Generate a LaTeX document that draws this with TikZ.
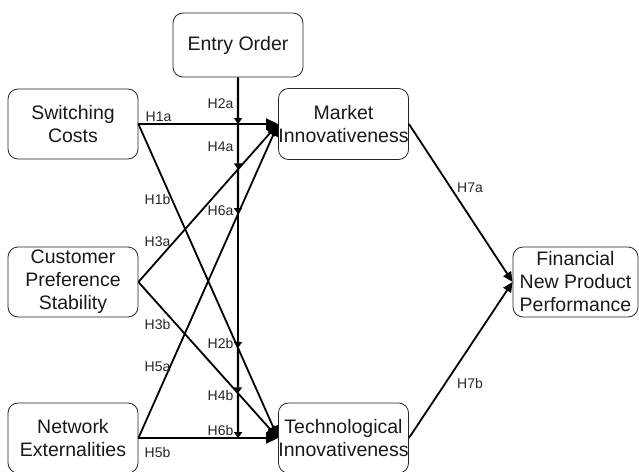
\documentclass[tikz,border=0pt]{standalone}
\usepackage{fontspec}
\setmainfont{Liberation Sans}
\usetikzlibrary{arrows.meta}
\begin{document}
\begin{tikzpicture}[x=1pt,y=-1pt,
  box/.style={draw=black!85, line width=0.8pt, rounded corners=10pt, align=center,
    inner sep=0pt, text=black!90, font=\fontsize{19.5}{23}\selectfont},
  effect/.style={line width=1.8pt, -{Triangle[length=12pt,width=11pt]}},
  outcome/.style={line width=1.8pt, -{Triangle[length=10pt,width=9pt]}},
  moderator/.style={line width=2.2pt, -{Triangle[length=6pt,width=8pt]}},
  hyp/.style={inner sep=0pt, text=black!85, font=\fontsize{14}{16}\selectfont}]
\useasboundingbox (0,0) rectangle (639,471);
\clip (0,0) rectangle (639,471);

% constructs
\node[box, minimum width=130pt, minimum height=64pt] (eo) at (238,45) {Entry Order};
\node[box, minimum width=130pt, minimum height=70pt] (sc) at (73,124) {Switching\\Costs};
\node[box, minimum width=130pt, minimum height=70pt] (cps) at (73,282) {Customer\\Preference\\Stability};
\node[box, minimum width=130pt, minimum height=70pt] (ne) at (73,438) {Network\\Externalities};
\node[box, minimum width=129pt, minimum height=71pt] (mi) at (343.5,124) {Market\\Innovativeness};
\node[box, minimum width=129pt, minimum height=70pt] (ti) at (343.5,438) {Technological\\Innovativeness};
\node[box, minimum width=125pt, minimum height=70pt] (fp) at (575.5,282) {Financial\\New Product\\Performance};

% direct effects
\draw[effect] (sc.east) -- (mi.west);
\draw[effect] (sc.east) -- (ti.west);
\draw[effect] (cps.east) -- (mi.west);
\draw[effect] (cps.east) -- (ti.west);
\draw[effect] (ne.east) -- (mi.west);
\draw[effect] (ne.east) -- (ti.west);
\draw[outcome] (mi.east) -- (fp.west);
\draw[outcome] (ti.east) -- (fp.west);

% moderating effect of entry order on each path
\coordinate (m1) at (intersection of sc.east--mi.west and eo.south--eo.north);
\coordinate (m2) at (intersection of cps.east--mi.west and eo.south--eo.north);
\coordinate (m3) at (intersection of ne.east--mi.west and eo.south--eo.north);
\coordinate (m4) at (intersection of sc.east--ti.west and eo.south--eo.north);
\coordinate (m5) at (intersection of cps.east--ti.west and eo.south--eo.north);
\coordinate (m6) at (intersection of ne.east--ti.west and eo.south--eo.north);
\draw[moderator] (eo.south) -- (m1);
\draw[moderator] (m1) -- (m2);
\draw[moderator] (m2) -- (m3);
\draw[moderator] (m3) -- (m4);
\draw[moderator] (m4) -- (m5);
\draw[moderator] (m5) -- (m6);

% hypothesis labels
\node[hyp] (h1a) at (158.5,117) {H1a};
\node[hyp] (h1b) at (157.5,199) {H1b};
\node[hyp] (h3a) at (157.5,242) {H3a};
\node[hyp] (h3b) at (157.5,324) {H3b};
\node[hyp] (h5a) at (157.5,367) {H5a};
\node[hyp] (h5b) at (157.5,452) {H5b};
\node[hyp] (h2a) at (220.5,104) {H2a};
\node[hyp] (h4a) at (220.5,147) {H4a};
\node[hyp] (h6a) at (220.5,211) {H6a};
\node[hyp] (h2b) at (220.5,343) {H2b};
\node[hyp] (h4b) at (220.5,395) {H4b};
\node[hyp] (h6b) at (220.5,430) {H6b};
\node[hyp] (h7a) at (470,188) {H7a};
\node[hyp] (h7b) at (470,383) {H7b};
\end{tikzpicture}
\end{document}
